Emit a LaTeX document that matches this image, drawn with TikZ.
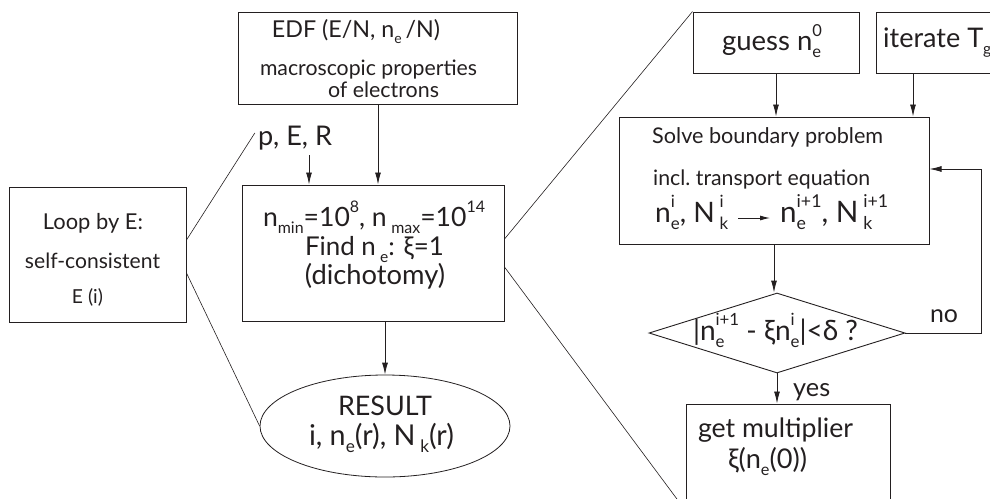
\documentclass[tikz,border=0pt]{standalone}
\usepackage{fontspec}
\setmainfont{Lato}
\usetikzlibrary{shapes.geometric,arrows.meta,calc}
% lowered / raised indices, and a stacked pair of them
\newcommand\lo[1]{\raisebox{-0.27em}{\scalebox{0.6}{#1}}}
\newcommand\hi[1]{\raisebox{0.5em}{\scalebox{0.6}{#1}}}
\newcommand\lohi[2]{\ooalign{\lo{#1}\cr\hi{#2}\cr}}
% a line of text set to a given width (in pt)
\newcommand\fit[2]{\resizebox{#1pt}{!}{#2}}
\definecolor{ink}{RGB}{35,31,32}
\begin{document}
\begin{tikzpicture}[x=1pt,y=-1pt, color=ink,
  box/.style={draw=ink, line width=1pt, inner sep=0pt, rectangle},
  txt/.style={inner sep=0pt, anchor=base, text=ink, font=\fontsize{22}{26}\selectfont},
  txtw/.style={txt, anchor=base west},
  bigtxt/.style={txt, font=\fontsize{26}{30}\selectfont},
  arr/.style={draw=ink, line width=0.9pt, -{Latex[length=12pt,width=6pt]}},
  ln/.style={draw=ink, line width=0.6pt}]
\useasboundingbox (0,0) rectangle (990,498);
\clip (0,0) rectangle (990,498);

% ---- frames ----
\node[box, minimum width=279pt, minimum height=92pt]  (edf)   at (377.5,58)  {};
\node[box, minimum width=177pt, minimum height=135pt] (loop)  at (97.5,254.5) {};
\node[box, minimum width=262pt, minimum height=136pt] (main)  at (373,253)   {};
\node[draw=ink, line width=0.8pt, ellipse, inner sep=0pt,
      minimum width=250pt, minimum height=102pt]      (res)   at (385,426)   {};
\node[box, minimum width=166pt, minimum height=61pt]  (guess) at (776,42.5)  {};
\node[box, minimum width=134pt, minimum height=61pt]  (iter)  at (943,42.5)  {};
\node[box, minimum width=310pt, minimum height=127pt] (solve) at (774,180.5) {};
\node[draw=ink, line width=0.9pt, diamond, inner sep=0pt,
      minimum width=256pt, minimum height=80pt]       (dia)   at (777,333)   {};
\node[box, minimum width=204pt, minimum height=106pt] (get)   at (788,457)   {};

% ---- texts ----
\node[txt] (e1) at (356,37)   {\fit{168}{EDF (E/N, n\lo{e}\,/N)}};
\node[txt] (e2) at (368.5,75) {\fit{217}{macroscopic properties}};
\node[txt] (e3) at (383.5,97) {\fit{111}{of electrons}};

\node[txt] (per) at (295,145) {\fit{74}{p, E, R}};

\node[txt] (l1) at (93,229)   {\fit{100}{Loop by E:}};
\node[txt] (l2) at (92.5,268) {\fit{135}{self-consistent}};
\node[txt] (l3) at (87.5,303) {\fit{31}{E (i)}};

\node[bigtxt] (m1) at (374,226) {\fit{222}{n\lo{min}=10\hi{8}, n\,\lo{max}=10\hi{14}}};
\node[bigtxt] (m2) at (374.5,255) {\fit{139}{Find n\,\lo{e}: ξ=1}};
\node[bigtxt] (m3) at (375,284) {\fit{140}{(dichotomy)}};

\node[bigtxt] (r1) at (385,415) {\fit{94}{RESULT}};
\node[bigtxt] (r2) at (381.5,445) {\fit{145}{i, n\lo{e}(r), N\,\lo{k}(r)}};

\node[bigtxt] (g1) at (772,50) {\fit{100}{guess n\lohi{e}{0}}};
\node[bigtxt, anchor=base west] (i1) at (883,47) {\fit{100}{iterate T}\lo{g}};

\node[txtw] (s1) at (652,143) {\fit{231}{Solve boundary problem}};
\node[txtw] (s2) at (653,185) {\fit{217}{incl.\ transport equation}};
\node[bigtxt, anchor=base west] (s3a) at (655,222) {\fit{73}{n\lohi{e}{i}, N\,\lohi{k}{i}}};
\node[bigtxt, anchor=base west] (s3b) at (780,222) {\fit{108}{n\lohi{e}{i+1}, N\,\lohi{k}{i+1}}};

\node[bigtxt] (d1) at (775.5,340) {\fit{165}{|n\lohi{e}{i+1} - ξn\lohi{e}{i}|<δ ?}};
\node[bigtxt] (no) at (944,322) {\fit{28}{no}};
\node[bigtxt, anchor=base west] (yes) at (793,396) {\fit{37}{yes}};

\node[bigtxt] (t1) at (775.5,437) {\fit{155}{get multiplier}};
\node[bigtxt] (t2) at (767.5,468) {\fit{79}{ξ(n\lo{e}(0))}};

% ---- arrows ----
\draw[arr] (edf.south -| 378,0) -- (378,0 |- main.north);
\draw[arr] ([xshift=14pt,yshift=-10pt]per.base) coordinate (pa) -- (pa |- main.north);
\draw[arr] (main.south -| res.north) -- (res.north);
\draw[arr] (guess.south) -- (guess.south |- solve.north);
\draw[arr] ([xshift=-30pt]iter.south) coordinate (ia) -- (ia |- solve.north);
\draw[arr] (solve.south) -- (solve.south |- dia.north);
\draw[arr] (dia.south) -- (dia.south |- get.north);
\draw[arr] (dia.east) -- ++(76,0) |- ([yshift=11.5pt]solve.east);
\draw[arr, -{Latex[length=10pt,width=5pt]}] ([xshift=10pt,yshift=4pt]s3a.base east) coordinate (sa)
      -- ([xshift=-10pt]sa -| s3b.base west);

% ---- zoom lines ----
\draw[ln] ([yshift=14.5pt]loop.east) -- ([xshift=-3pt,yshift=12pt]per.base west);
\draw[ln] ([yshift=-18.5pt]loop.east) -- (res.west);
\draw[ln] ([yshift=14pt]main.east) -- (guess.north west);
\draw[ln] ([yshift=-14pt]main.east) -- (get.south west);
\end{tikzpicture}
\end{document}
